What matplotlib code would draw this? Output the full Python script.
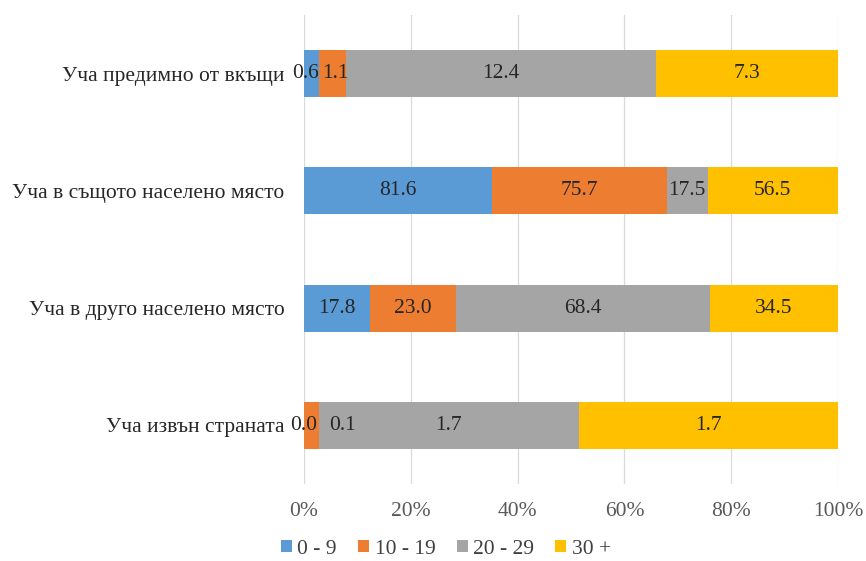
import matplotlib
matplotlib.use("Agg")
import matplotlib.pyplot as plt
import numpy as np
from matplotlib.ticker import FuncFormatter

categories = ["Уча предимно от вкъщи", "Уча в същото населено място",
              "Уча в друго населено място", "Уча извън страната"]
series_names = ["0 - 9", "10 - 19", "20 - 29", "30 +"]
values = {
    "0 - 9":   [0.6, 81.6, 17.8, 0.0],
    "10 - 19": [1.1, 75.7, 23.0, 0.1],
    "20 - 29": [12.4, 17.5, 68.4, 1.7],
    "30 +":    [7.3, 56.5, 34.5, 1.7],
}
colors = ["#5B9BD5", "#ED7D31", "#A5A5A5", "#FFC000"]
xticks = [0, 0.2, 0.4, 0.6, 0.8, 1.0]

plt.rcParams['font.family'] = ['Liberation Serif', 'DejaVu Serif']

fig = plt.figure(figsize=(8.66, 5.61), dpi=100)
ax = fig.add_axes([304/866, 1-484/561, (838-304)/866, (484-15)/561])

data = np.array([values[s] for s in series_names])
totals = data.sum(axis=0)
shares = data / totals
y = np.arange(len(categories))
left = np.zeros(len(categories))
label_offsets = {("10 - 19", 3): 22, ("0 - 9", 0): -4, ("10 - 19", 0): 2}
for i, s in enumerate(series_names):
    ax.barh(y, shares[i], left=left, height=0.40, color=colors[i], label=s, zorder=3)
    for j in range(len(categories)):
        cx = left[j] + shares[i][j] / 2
        off = label_offsets.get((s, j), 0)
        ax.annotate(f"{data[i][j]:.1f}", (cx, y[j]), xytext=(off, 0), textcoords="offset points",
                    ha="center", va="center", fontsize=15.5, color="#262626", zorder=4)
    left += shares[i]

ax.set_xlim(0, 1)
ax.set_ylim(3.5, -0.5)
ax.set_yticks(y)
ax.set_yticklabels(categories, fontsize=15.5, color="#262626")
ax.set_xticks(xticks)
ax.xaxis.set_major_formatter(FuncFormatter(lambda v, p: f"{v*100:.0f}%"))
ax.tick_params(axis='x', labelsize=15.5, labelcolor="#595959", length=0, pad=13)
ax.tick_params(axis='y', length=0, pad=14)
ax.grid(axis='x', color="#D9D9E0", linewidth=0.9, zorder=0)
for sp in ax.spines.values():
    sp.set_visible(False)

fig.legend(loc="center", bbox_to_anchor=(0.515, 1-549/561), ncol=4, frameon=False,
           fontsize=15.5, handlelength=0.5, handleheight=0.5, handletextpad=0.25,
           columnspacing=1.0, labelcolor="#404040")

fig.savefig("out.png", dpi=100)
